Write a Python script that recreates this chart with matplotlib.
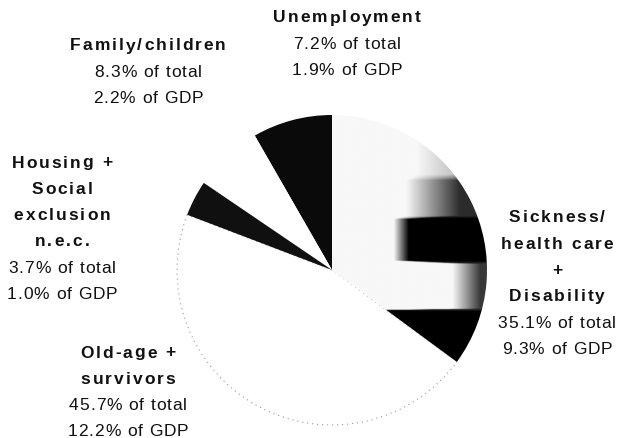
import numpy as np
import matplotlib
matplotlib.use("Agg")
import matplotlib.pyplot as plt
from matplotlib.font_manager import FontProperties

plt.rcParams['font.family'] = ['Liberation Sans', 'DejaVu Sans']

# Social protection expenditure by function (share of total, share of GDP)
categories = ["Family/children", "Unemployment", "Housing +\nSocial\nexclusion\nn.e.c.",
              "Old-age +\nsurvivors", "Sickness/\nhealth care\n+\nDisability"]
pct_total = [8.3, 7.2, 3.7, 45.7, 35.1]
pct_gdp = [2.2, 1.9, 1.0, 12.2, 9.3]

face_colors = ["#0a0a0a", "white", "#101010", "white", "white"]

W, H = 619, 438
fig = plt.figure(figsize=(W / 100, H / 100), dpi=100)
fig.patch.set_facecolor("white")

# pie axes: centre at (332, 270) px, radius 155 px
cx, cy, r = 332, 270, 155
ax = fig.add_axes([(cx - r) / W, (H - cy - r) / H, 2 * r / W, 2 * r / H])

wedges, _ = ax.pie(pct_total, colors=face_colors, startangle=90, counterclock=True,
                   wedgeprops=dict(linewidth=0))

# old-age slice: white with a faint dotted rim
old = wedges[3]
old.set_edgecolor("#999999")
old.set_linewidth(0.8)
old.set_linestyle((0, (1, 3.5)))
old.set_zorder(0.5)

# sickness slice: scanned gradient with dark horizontal bands
xs = np.linspace(-1, 1, 500)
X, Y = np.meshgrid(xs, xs)
yk = [-1.0, -0.27, -0.25, 0.04, 0.06, 0.33, 0.35, 0.58, 0.62, 1.0]
x_start = np.interp(Y, yk, [-0.5, -0.5, 0.78, 0.78, 0.40, 0.40, 0.48, 0.48, 0.55, 0.55])
width = np.interp(Y, yk, [0.1, 0.1, 0.18, 0.18, 0.1, 0.1, 0.35, 0.35, 0.4, 0.4])
max_dark = np.interp(Y, yk, [1.0, 1.0, 0.75, 0.75, 1.0, 1.0, 0.8, 0.8, 0.35, 0.35])
dark = np.clip((X - x_start) / width, 0, 1) * max_dark + 0.03
img = ax.imshow(np.clip(dark, 0, 1), cmap="gray_r", vmin=0, vmax=1,
                extent=(-1, 1, -1, 1), origin="lower", interpolation="bilinear", zorder=2)
img.set_clip_path(wedges[4])

ax.set_xlim(-1, 1)
ax.set_ylim(-1, 1)
ax.set_aspect("equal")
ax.axis("off")

renderer = fig.canvas.get_renderer()
fs = 12.5


def spaced_text(xc, y, s, weight, gap):
    """Draw s centred on pixel x=xc, y (from top), with extra letter spacing."""
    prop = FontProperties(family=['Liberation Sans', 'DejaVu Sans'], size=fs, weight=weight)
    widths = [renderer.get_text_width_height_descent(ch, prop, ismath=False)[0] for ch in s]
    total = sum(widths) + gap * (len(s) - 1)
    x = xc - total / 2
    for ch, w in zip(s, widths):
        if ch != " ":
            fig.text(x / W, 1 - y / H, ch, ha="left", va="center",
                     fontproperties=prop, color="#111111")
        x += w + gap


# label blocks: (centre x px, first line y px) per category
label_pos = [(148, 46), (347, 18), (62, 163), (128, 353), (557, 218)]
line_h = 26.3
for name, tot, gdp, (lx, ly) in zip(categories, pct_total, pct_gdp, label_pos):
    lines = name.split("\n")
    for i, line in enumerate(lines):
        spaced_text(lx, ly + i * line_h, line, "bold", 2.0)
    n = len(lines)
    spaced_text(lx, ly + n * line_h, f"{tot:.1f}% of total", "normal", 0.9)
    spaced_text(lx, ly + (n + 1) * line_h, f"{gdp:.1f}% of GDP", "normal", 0.9)

fig.savefig("out.png", dpi=100, facecolor="white")
